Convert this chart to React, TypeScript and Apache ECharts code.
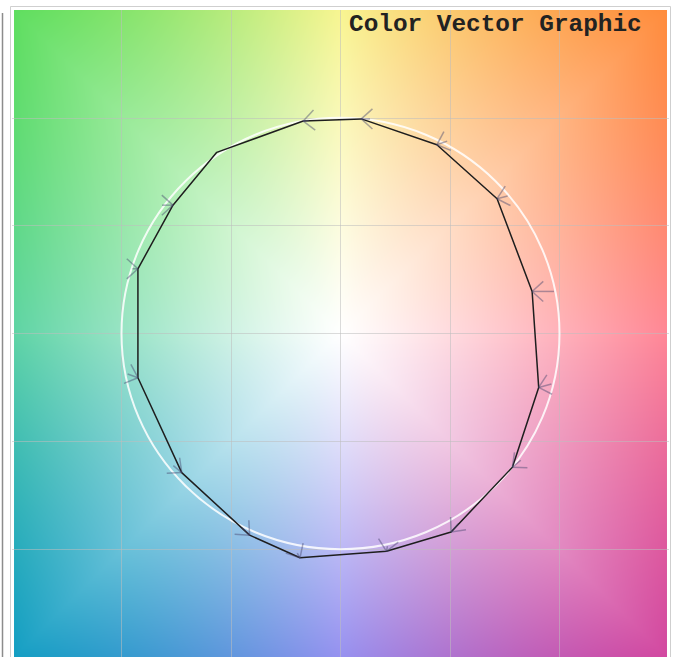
import React, { useEffect, useRef } from 'react';
import * as echarts from 'echarts';

// ---- data ----
const chartTitle = 'Color Vector Graphic';
const axisMin = -3;
const axisMax = 3;
const axisStep = 1;
const referenceRadius = 2;

// measured vector end points (polygon vertices), in chart units
const vertexX = [-0.34, 0.19, 0.88, 1.43, 1.75, 1.81, 1.57, 1.01, 0.42, -0.37, -0.83, -1.45, -1.85, -1.85, -1.53, -1.13];
const vertexY = [1.97, 1.99, 1.75, 1.25, 0.39, -0.5, -1.24, -1.84, -2.02, -2.08, -1.87, -1.29, -0.41, 0.6, 1.19, 1.68];
// arrow direction (degrees, counter-clockwise from +x) and shaft length (chart units) at each vertex
const vectorAngle: (number | null)[] = [185, 180, 200, 195, 180, 195, 220, 230, 260, 300, 315, 320, 340, 0, 0, null];
const vectorLength = [0.05, 0.08, 0.1, 0.1, 0.2, 0.12, 0.1, 0.1, 0.05, 0.05, 0.1, 0.1, 0.1, 0.05, 0.1, 0];

// ---- background palette (hue by direction) ----
const paletteAngles = [0, 45, 90, 135, 180, 225, 270, 315, 360];
const paletteColors = [
  [255, 135, 150],
  [255, 140, 60],
  [248, 245, 145],
  [95, 222, 95],
  [95, 212, 165],
  [20, 158, 195],
  [150, 145, 240],
  [210, 72, 160],
  [255, 135, 150],
];

const GRID_W = 657;
const GRID_H = 651;

function buildBackground(W: number, H: number): string {
  const canvas = document.createElement('canvas');
  canvas.width = W;
  canvas.height = H;
  const ctx = canvas.getContext('2d')!;
  const img = ctx.createImageData(W, H);
  const span = axisMax - axisMin;
  for (let j = 0; j < H; j++) {
    for (let i = 0; i < W; i++) {
      const x = axisMin + (span * (i + 0.5)) / W;
      const y = axisMax - (span * (j + 0.5)) / H;
      let a = (Math.atan2(y, x) * 180) / Math.PI;
      if (a < 0) a += 360;
      const r = Math.hypot(x, y);
      const c = Math.cos((a * Math.PI) / 180);
      const s = Math.sin((a * Math.PI) / 180);
      const rEdge = axisMax / Math.max(Math.abs(c), Math.abs(s));
      let t = Math.min(1, r / rEdge);
      t = Math.pow(t, 1.1);
      let k = 0;
      while (k < paletteAngles.length - 2 && a > paletteAngles[k + 1]) k++;
      const f = (a - paletteAngles[k]) / (paletteAngles[k + 1] - paletteAngles[k]);
      const c0 = paletteColors[k];
      const c1 = paletteColors[k + 1];
      const idx = (j * W + i) * 4;
      for (let ch = 0; ch < 3; ch++) {
        const base = c0[ch] + (c1[ch] - c0[ch]) * f;
        img.data[idx + ch] = Math.round(255 * (1 - t) + base * t);
      }
      img.data[idx + 3] = 255;
    }
  }
  ctx.putImageData(img, 0, 0);
  return canvas.toDataURL('image/png');
}

export default function App() {
  const ref = useRef<HTMLDivElement>(null);
  useEffect(() => {
    if (!ref.current) return;
    const chart = echarts.init(ref.current, null, { renderer: 'svg' });
    const bg = buildBackground(GRID_W, GRID_H);

    const polygon = vertexX.map((x, i) => [x, vertexY[i]]);
    polygon.push([vertexX[0], vertexY[0]]);

    const arrowData: number[][] = [];
    vertexX.forEach((x, i) => {
      const ang = vectorAngle[i];
      if (ang !== null) arrowData.push([x, vertexY[i], ang, vectorLength[i]]);
    });

    const makeAxis = () => ({
      type: 'value',
      min: axisMin,
      max: axisMax,
      interval: axisStep,
      axisLine: { show: false },
      axisTick: { show: false },
      axisLabel: { show: false },
      splitLine: {
        show: true,
        showMinLine: false,
        showMaxLine: false,
        lineStyle: { color: 'rgba(190,190,190,0.55)', width: 1 },
      },
    });

    chart.setOption({
      animation: false,
      backgroundColor: '#ffffff',
      title: {
        text: chartTitle,
        left: 349,
        top: 12,
        padding: 0,
        textStyle: {
          fontFamily: '"Liberation Mono", "Courier New", monospace',
          fontSize: 24.4,
          fontWeight: 'bold',
          color: '#222222',
        },
      },
      grid: { left: 12, top: 10, width: GRID_W, height: GRID_H },
      xAxis: makeAxis(),
      yAxis: makeAxis(),
      graphic: [
        {
          type: 'rect',
          z: -30,
          shape: { x: 10.5, y: 6.5, width: 660, height: 700 },
          style: { fill: 'none', stroke: '#cfcfcf', lineWidth: 1 },
        },
        {
          type: 'line',
          shape: { x1: 2.5, y1: 13, x2: 2.5, y2: 657 },
          style: { stroke: '#8c8c8c', lineWidth: 1.5 },
        },
      ],
      series: [
        {
          type: 'custom',
          z: -10,
          silent: true,
          data: [[axisMin, axisMax, axisMax, axisMin]],
          renderItem: (params: any, api: any) => {
            const tl = api.coord([api.value(0), api.value(1)]);
            const br = api.coord([api.value(2), api.value(3)]);
            return {
              type: 'image',
              style: { image: bg, x: tl[0], y: tl[1], width: br[0] - tl[0], height: br[1] - tl[1] },
            };
          },
        },
        {
          type: 'custom',
          z: 2,
          silent: true,
          data: [[0, 0, referenceRadius]],
          renderItem: (params: any, api: any) => {
            const c = api.coord([api.value(0), api.value(1)]);
            const s = api.size([api.value(2), api.value(2)]);
            return {
              type: 'ellipse',
              shape: { cx: c[0], cy: c[1], rx: s[0], ry: s[1] },
              style: { fill: 'none', stroke: 'rgba(255,255,255,0.85)', lineWidth: 2 },
            };
          },
        },
        {
          type: 'line',
          z: 3,
          silent: true,
          data: polygon,
          symbol: 'none',
          lineStyle: { color: '#1e1e1e', width: 1.5 },
        },
        {
          type: 'custom',
          z: 4,
          silent: true,
          data: arrowData,
          renderItem: (params: any, api: any) => {
            const p = api.coord([api.value(0), api.value(1)]);
            const ang = (api.value(2) * Math.PI) / 180;
            const unit = api.size([1, 1]);
            const len = api.value(3);
            const dx = Math.cos(ang);
            const dy = -Math.sin(ang);
            const tail = [p[0] - dx * len * unit[0], p[1] - dy * len * unit[1]];
            const head = 15;
            const spread = (42 * Math.PI) / 180;
            const back = Math.atan2(-dy, -dx);
            const arms = [back + spread, back - spread].map((b) => [
              p[0] + Math.cos(b) * head,
              p[1] + Math.sin(b) * head,
            ]);
            const stroke = 'rgba(70,70,110,0.45)';
            return {
              type: 'group',
              children: [
                { type: 'line', shape: { x1: tail[0], y1: tail[1], x2: p[0], y2: p[1] }, style: { stroke, lineWidth: 1.5 } },
                { type: 'line', shape: { x1: arms[0][0], y1: arms[0][1], x2: p[0], y2: p[1] }, style: { stroke, lineWidth: 1.5 } },
                { type: 'line', shape: { x1: arms[1][0], y1: arms[1][1], x2: p[0], y2: p[1] }, style: { stroke, lineWidth: 1.5 } },
              ],
            };
          },
        },
      ],
    });
    return () => chart.dispose();
  }, []);
  return <div ref={ref} style={{ position: 'absolute', left: 0, top: 0, width: 674, height: 657 }} />;
}
